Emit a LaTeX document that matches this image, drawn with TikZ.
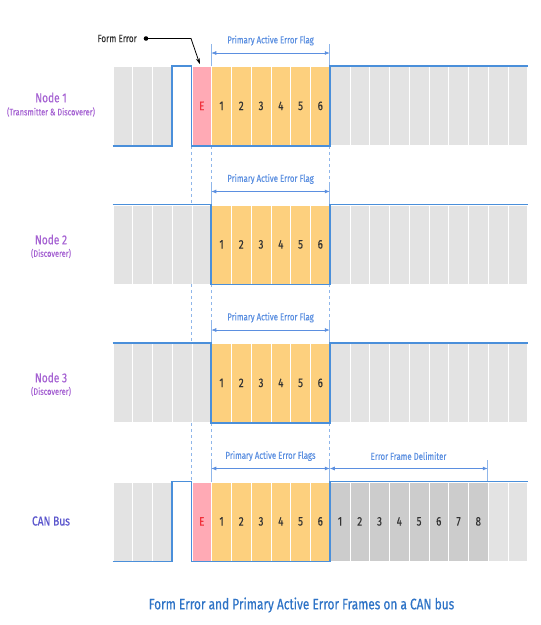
\documentclass[tikz,border=0pt]{standalone}
\usepackage{fontspec}
\setmainfont{Fira Sans}[FakeStretch=0.78, FakeBold=0.4]
\usetikzlibrary{arrows.meta}
\definecolor{cgray}{HTML}{E3E3E3}
\definecolor{cdark}{HTML}{CCCCCC}
\definecolor{corange}{HTML}{FDD07E}
\definecolor{cpink}{HTML}{FFAAB5}
\definecolor{cred}{HTML}{F0303A}
\definecolor{csig}{HTML}{4A8FDA}
\definecolor{cdash}{HTML}{8FB6EA}
\definecolor{cdim}{HTML}{5B8FE0}
\definecolor{cpurple}{HTML}{A562D2}
\definecolor{ccan}{HTML}{5A55CC}
\definecolor{ctitle}{HTML}{2E73C6}
\definecolor{ctext}{HTML}{333333}
\def\cw{19.75}
\def\xo{112.5}
\tikzset{
  cell/.style={draw=white, line width=0.8pt, minimum width=19.75pt, minimum height=79pt,
    inner sep=0pt, anchor=north west, text=ctext, font=\fontsize{12.5}{14}\selectfont},
  graycell/.style={cell, fill=cgray},
  darkcell/.style={cell, fill=cdark},
  orangecell/.style={cell, fill=corange},
  pinkcell/.style={cell, fill=cpink, text=cred},
  emptycell/.style={cell, draw=none},
  signal/.style={csig, line width=1.6pt, line join=miter},
  dashline/.style={cdash, line width=0.8pt, dash pattern=on 3pt off 3pt},
  dimtick/.style={cdash, line width=0.8pt},
  dimarrow/.style={cdim, line width=0.7pt, {Latex[length=5pt,width=4pt]}-{Latex[length=5pt,width=4pt]}},
  dimlabel/.style={text=cdim, font=\fontsize{10}{12}\selectfont, inner sep=1pt},
  nodename/.style={text=cpurple, font=\fontsize{13}{15}\selectfont, inner sep=0pt},
  nodesub/.style={text=cpurple, font=\fontsize{9.5}{11}\selectfont, inner sep=0pt},
}
\begin{document}
\begin{tikzpicture}[x=1pt,y=-1pt]
\useasboundingbox (0,0) rectangle (541,625);

% ---------- Row 1: Node 1 ----------
\def\ty{66}
\foreach \i in {0,1,2,11,12,13,14,15,16,17,18,19,20}
  {\node[graycell] (a\i) at ({\xo+\i*\cw},\ty) {};}
\node[emptycell] (a3) at ({\xo+3*\cw},\ty) {};
\node[pinkcell] (a4) at ({\xo+4*\cw},\ty) {E};
\foreach \i [evaluate=\i as \n using int(\i-4)] in {5,...,10}
  {\node[orangecell] (a\i) at ({\xo+\i*\cw},\ty) {\n};}

% ---------- Row 2: Node 2 ----------
\def\ty{204.5}
\foreach \i in {0,1,2,3,4,11,12,13,14,15,16,17,18,19,20}
  {\node[graycell] (b\i) at ({\xo+\i*\cw},\ty) {};}
\foreach \i [evaluate=\i as \n using int(\i-4)] in {5,...,10}
  {\node[orangecell] (b\i) at ({\xo+\i*\cw},\ty) {\n};}

% ---------- Row 3: Node 3 ----------
\def\ty{343}
\foreach \i in {0,1,2,3,4,11,12,13,14,15,16,17,18,19,20}
  {\node[graycell] (c\i) at ({\xo+\i*\cw},\ty) {};}
\foreach \i [evaluate=\i as \n using int(\i-4)] in {5,...,10}
  {\node[orangecell] (c\i) at ({\xo+\i*\cw},\ty) {\n};}

% ---------- Row 4: CAN Bus ----------
\def\ty{481.5}
\foreach \i in {0,1,2,19,20}
  {\node[graycell] (d\i) at ({\xo+\i*\cw},\ty) {};}
\node[emptycell] (d3) at ({\xo+3*\cw},\ty) {};
\node[pinkcell] (d4) at ({\xo+4*\cw},\ty) {E};
\foreach \i [evaluate=\i as \n using int(\i-4)] in {5,...,10}
  {\node[orangecell] (d\i) at ({\xo+\i*\cw},\ty) {\n};}
\foreach \i [evaluate=\i as \n using int(\i-10)] in {11,...,18}
  {\node[darkcell] (d\i) at ({\xo+\i*\cw},\ty) {\n};}

% ---------- dashed guide lines ----------
\foreach \u/\v in {a/b,b/c,c/d}{
  \draw[dashline] (\u4.south west) -- (\v4.north west);
  \draw[dashline] (\u5.south west) -- (\v5.north west);
  \draw[dashline] (\u11.south west) -- (\v11.north west);
}

% ---------- dimension lines ----------
\foreach \r in {a,b,c,d}{
  \draw[dimtick] (\r5.north west) -- ++(0,-22);
  \draw[dimtick] (\r11.north west) -- ++(0,-22);
  \draw[dimarrow] ([yshift=13pt]\r5.north west) -- ([yshift=13pt]\r11.north west);
}
\draw[dimtick] (d19.north west) -- ++(0,-22);
\draw[dimarrow] ([yshift=13pt]d11.north west) -- ([yshift=13pt]d19.north west);

\node[dimlabel] (la) at (270.5,40.5) {Primary Active Error Flag};
\node[dimlabel] (lb) at (270.5,179) {Primary Active Error Flag};
\node[dimlabel] (lc) at (270.5,317.5) {Primary Active Error Flag};
\node[dimlabel] (ld) at (270.5,456) {Primary Active Error Flags};
\node[dimlabel] (le) at (408.5,456) {Error Frame Delimiter};

% ---------- signal lines ----------
\draw[signal] (a0.south west) -- (a3.south west) -- (a3.north west) -- (a4.north west)
  -- (a4.south west) -- (a11.south west) -- (a11.north west) -- (a20.north east);
\draw[signal] (b0.north west) -- (b5.north west) -- (b5.south west) -- (b11.south west)
  -- (b11.north west) -- (b20.north east);
\draw[signal] (c0.north west) -- (c5.north west) -- (c5.south west) -- (c11.south west)
  -- (c11.north west) -- (c20.north east);
\draw[signal] (d0.south west) -- (d3.south west) -- (d3.north west) -- (d4.north west)
  -- (d4.south west) -- (d11.south west) -- (d11.north west) -- (d20.north east);

% ---------- Form Error ----------
\node[text=ctext, font=\fontsize{10.5}{12}\selectfont, anchor=east, inner sep=0pt] (fe) at (137,38.5) {Form Error};
\coordinate (fedot) at (146,38.5);
\coordinate (febend) at (191,38.5);
\fill[black] (fedot) circle (2.3);
\draw[black, line width=0.8pt, -{Stealth[length=6pt,width=4pt]}] (fedot) -- (febend) -- ([xshift=-2pt,yshift=2pt]a4.north);

% ---------- row names ----------
\node[nodename] (n1) at (51,97.5) {Node 1};
\node[nodesub] (n1s) at (51,112) {(Transmitter \& Discoverer)};
\node[nodename] (n2) at (51,239.5) {Node 2};
\node[nodesub] (n2s) at (51,253.5) {(Discoverer)};
\node[nodename] (n3) at (51,377.5) {Node 3};
\node[nodesub] (n3s) at (51,391.5) {(Discoverer)};
\node[nodename, text=ccan] (n4) at (51,521) {CAN Bus};

% ---------- title ----------
\node[text=ctitle, font=\fontsize{15.2}{17}\selectfont, inner sep=0pt] (title) at (301.5,605) {Form Error and Primary Active Error Frames on a CAN bus};
\end{tikzpicture}
\end{document}
